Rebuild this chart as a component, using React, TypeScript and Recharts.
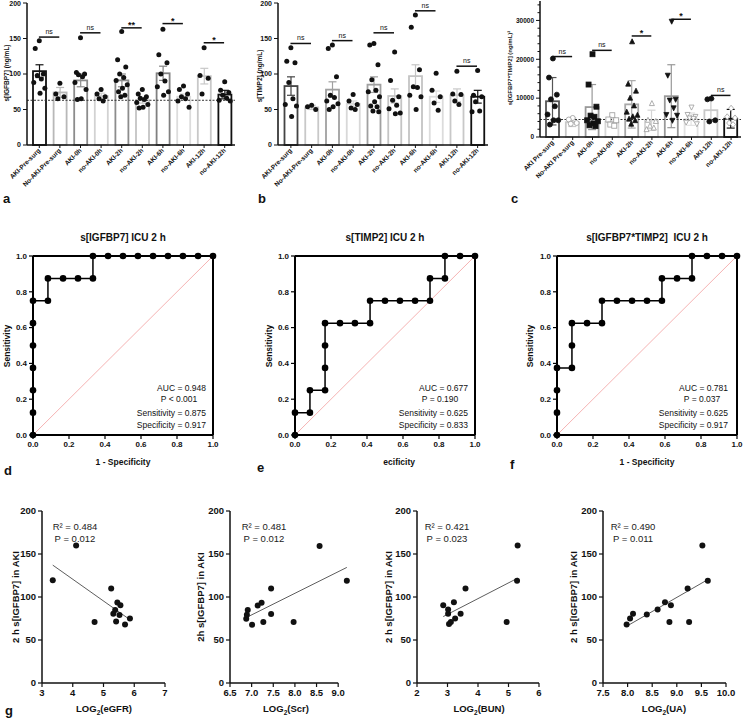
import React from 'react';
import { ComposedChart, Bar, Scatter, Line, XAxis, YAxis, ReferenceLine } from 'recharts';

const FONT = '"Liberation Sans", Arial, Helvetica, sans-serif';

// ---------- Panels a-c : categories ----------
const catsAB = ['AKI-Pre-surg', 'No-AKI-Pre-surg', 'AKI-0h', 'no-AKI-0h', 'AKI-2h', 'no-AKI-2h', 'AKI-6h', 'no-AKI-6h', 'AKI-12h', 'no-AKI-12h'];
const catsC = ['AKI Pre-surg', 'No-AKI Pre-surg', 'AKI-0h', 'no-AKI-0h', 'AKI-2h', 'no-AKI-2h', 'AKI-6h', 'no-AKI-6h', 'AKI-12h', 'no-AKI-12h'];

// ---------- Panel a : s[IGFBP7] ----------
const igfMean = [104, 74, 91, 69, 91, 63, 101, 68, 97, 71];
const igfErr = [9, 7, 9, 4, 9, 4, 10, 4, 11, 6];
const igfPts = [
  [147, 136, 100, 98, 93, 88, 80, 73],
  [87, 72, 68, 65],
  [151, 102, 100, 99, 96, 88, 78, 65, 64],
  [78, 72, 68, 65, 62],
  [160, 120, 110, 100, 95, 91, 85, 80, 75, 70, 68],
  [78, 72, 68, 66, 64, 60, 57, 53, 52],
  [163, 127, 116, 100, 90, 82, 75, 70],
  [83, 78, 72, 68, 65, 62, 53],
  [137, 98, 94, 72],
  [89, 77, 74, 70, 66, 63, 62],
];
const igfSigLeft = [0, 2, 4, 6, 8];
const igfSigY = [152, 158, 165, 171, 144];
const igfSigText = ['ns', 'ns', '**', '*', '*'];
const igfRef = 63;

// ---------- Panel b : s[TIMP2] ----------
const timpMean = [83, 53, 78, 58, 85, 69, 97, 68, 70, 68];
const timpErr = [13, 3, 11, 4, 11, 10, 16, 8, 9, 9];
const timpPts = [
  [137, 118, 116, 88, 65, 57, 55, 40],
  [56, 54, 50],
  [141, 136, 96, 70, 67, 62, 58, 54, 50],
  [71, 62, 57, 52, 50],
  [143, 141, 113, 92, 77, 75, 68, 61, 55, 54, 48, 47],
  [131, 91, 68, 63, 56, 51, 45, 44],
  [183, 166, 106, 82, 81, 70, 68, 50],
  [101, 77, 68, 59, 49],
  [104, 72, 71, 62, 57],
  [105, 70, 68, 61, 48, 47],
];
const timpSigLeft = [0, 2, 4, 6, 8];
const timpSigY = [143, 147, 158, 189, 111];
const timpSigText = ['ns', 'ns', 'ns', 'ns', 'ns'];

// ---------- Panel c : s[IGFBP7*TIMP2] ----------
const prodMean = [9200, 3800, 7700, 3900, 8400, 4300, 10500, 4600, 6900, 4700];
const prodErr = [6100, 1100, 5800, 1100, 6100, 2600, 8100, 1600, 2900, 2400];
const prodPts = [
  [20200, 15300, 10900, 9700, 7900, 5800, 4300, 4300, 3200],
  [4900, 4500, 3600, 3400],
  [21300, 13500, 7800, 5500, 5200, 4300, 4050, 3500, 3000, 2800],
  [5600, 4500, 4300, 3200, 2900],
  [24500, 13600, 11800, 10000, 8000, 6400, 5600, 5200, 4600, 4200, 3300],
  [8600, 4300, 4000, 2800, 2300, 1900],
  [29800, 15900, 9700, 9500, 7500, 5800, 5600, 4300],
  [7700, 5800, 5300, 4900, 4800, 3800, 3400],
  [9900, 9700, 4300, 4000],
  [7400, 5200, 4900, 3600, 3200],
];
const prodSigLeft = [0, 2, 4, 6, 8];
const prodSigY = [20700, 22300, 26000, 30300, 10700];
const prodSigText = ['ns', 'ns', '*', '*', 'ns'];
const prodRef = 4500;

// ---------- ROC curves (1 - specificity, sensitivity) ----------
const rocDx = [0, 0, 0, 0, 0, 0, 0, 0.083, 0.083, 0.167, 0.25, 0.333, 0.333, 0.417, 0.5, 0.583, 0.667, 0.75, 0.833, 0.917, 1];
const rocDy = [0, 0.125, 0.25, 0.375, 0.5, 0.625, 0.75, 0.75, 0.875, 0.875, 0.875, 0.875, 1, 1, 1, 1, 1, 1, 1, 1, 1];
const rocEx = [0, 0, 0.083, 0.083, 0.167, 0.167, 0.167, 0.167, 0.25, 0.333, 0.417, 0.417, 0.5, 0.583, 0.667, 0.75, 0.75, 0.833, 0.833, 0.917, 1];
const rocEy = [0, 0.125, 0.125, 0.25, 0.25, 0.375, 0.5, 0.625, 0.625, 0.625, 0.625, 0.75, 0.75, 0.75, 0.75, 0.75, 0.875, 0.875, 1, 1, 1];
const rocFx = [0, 0, 0, 0, 0.083, 0.083, 0.083, 0.167, 0.25, 0.25, 0.333, 0.417, 0.5, 0.583, 0.583, 0.667, 0.75, 0.75, 0.833, 0.917, 1];
const rocFy = [0, 0.125, 0.25, 0.375, 0.375, 0.5, 0.625, 0.625, 0.625, 0.75, 0.75, 0.75, 0.75, 0.75, 0.875, 0.875, 0.875, 1, 1, 1, 1];

// ---------- Scatter g ----------
const eGFRx = [3.35, 4.11, 4.71, 5.25, 5.45, 5.55, 5.38, 5.32, 5.52, 5.41, 5.70, 5.86];
const eGFRy = [119.5, 160, 71, 110, 93.6, 90.5, 85, 80.5, 79, 71.5, 68, 75];
const scrX = [6.875, 6.89, 6.91, 7.01, 7.14, 7.23, 7.27, 7.45, 7.45, 7.97, 8.57, 9.2];
const scrY = [74.7, 79.3, 85, 67.7, 90.2, 93.2, 70.8, 110, 80.2, 70.8, 159.4, 118.8];
const bunX = [2.86, 3.02, 3.02, 3.21, 3.05, 3.11, 3.25, 3.43, 3.59, 4.94, 5.30, 5.28];
const bunY = [90.5, 80.4, 85.4, 94, 68.7, 71, 75, 80.4, 110, 71, 159.8, 119];
const uaX = [7.98, 8.05, 8.11, 8.39, 8.61, 8.76, 8.88, 8.85, 9.22, 9.25, 9.52, 9.63];
const uaY = [68, 75, 80.4, 79.6, 85.4, 94, 90.5, 71, 110, 71, 160, 119];

// ---------- styles ----------
const colA = ['#111', '#b8b8b8', '#8c8c8c', '#d2d2d2', '#8c8c8c', '#c4c4c4', '#808080', '#dcdcdc', '#c8c8c8', '#111'];
const colB = ['#444', '#c8c8c8', '#a0a0a0', '#d8d8d8', '#a0a0a0', '#c4c4c4', '#c4c4c4', '#dcdcdc', '#c8c8c8', '#111'];
const colC = ['#555', '#c8c8c8', '#999', '#d8d8d8', '#a8a8a8', '#d4d4d4', '#999', '#e2e2e2', '#c8c8c8', '#111'];
const MARK_C = ['circle', 'circle', 'square', 'square', 'up', 'up', 'down', 'down', 'circle', 'diamond'];
const JIT = [0, -0.22, 0.22, -0.11, 0.11, -0.3, 0.3, 0.04, -0.17, 0.17, -0.05, 0.26];

const RotTick = (props: any) => {
  const { x, y, payload } = props;
  const tx = x + 1.5;
  const ty = y + 1;
  return (
    <text x={tx} y={ty} transform={`rotate(-45 ${tx} ${ty})`} textAnchor="end" fontSize={6.5} fontWeight="bold" fontFamily={FONT} fill="#111">
      {payload.value}
    </text>
  );
};

const MinorYTick = (props: any) => {
  const { x, y, payload } = props;
  const major = payload.value % 10000 === 0;
  return (
    <g>
      <line x1={x} x2={x - (major ? 4 : 2.5)} y1={y} y2={y} stroke="#111" strokeWidth={1} />
      {major && (
        <text x={x - 6} y={y + 2.3} textAnchor="end" fontSize={6.5} fontWeight="bold" fontFamily={FONT} fill="#111">
          {payload.value}
        </text>
      )}
    </g>
  );
};

function marker(cx: number, cy: number, g: number, kindArr: string[] | null) {
  if (!kindArr) return <circle cx={cx} cy={cy} r={2.5} fill="#111" />;
  const filled = g % 2 === 0;
  const fill = filled ? '#111' : '#fff';
  const stroke = filled ? '#111' : '#9a9a9a';
  const s = 2.5;
  const kind = kindArr[g];
  if (kind === 'square') return <rect x={cx - s} y={cy - s} width={2 * s} height={2 * s} fill={fill} stroke={stroke} strokeWidth={0.8} />;
  if (kind === 'up') return <polygon points={`${cx},${cy - s - 0.5} ${cx - s},${cy + s - 0.5} ${cx + s},${cy + s - 0.5}`} fill={fill} stroke={stroke} strokeWidth={0.8} />;
  if (kind === 'down') return <polygon points={`${cx},${cy + s + 0.5} ${cx - s},${cy - s + 0.5} ${cx + s},${cy - s + 0.5}`} fill={fill} stroke={stroke} strokeWidth={0.8} />;
  if (kind === 'diamond') return <polygon points={`${cx},${cy - s - 0.5} ${cx + s},${cy} ${cx},${cy + s + 0.5} ${cx - s},${cy}`} fill={fill} stroke={stroke} strokeWidth={0.8} />;
  return <circle cx={cx} cy={cy} r={s} fill={fill} stroke={stroke} strokeWidth={0.8} />;
}

const sigLabel = (txt: string) => (lp: any) => {
  const vb = lp.viewBox || {};
  const cx = (vb.x || 0) + (vb.width || 0) / 2;
  const isNs = txt === 'ns';
  return (
    <text x={cx} y={(vb.y || 0) - (isNs ? 3 : 0)} textAnchor="middle" fontSize={isNs ? 7 : 9} fontWeight={isNs ? 'normal' : 'bold'} fontFamily={FONT} fill="#111">
      {txt}
    </text>
  );
};

function BarPanel(p: any) {
  const data = p.cats.map((name: string, i: number) => ({ name, mean: p.means[i], i }));
  const pts: any[] = [];
  p.pts.forEach((arr: number[], g: number) => arr.forEach((v, k) => pts.push({ x: g + JIT[k % JIT.length] * 0.9, y: v, g })));
  const barShape = (s: any) => {
    const { x, y, width, height, payload } = s;
    const i = payload.i;
    const c = p.colors[i];
    const k = height / p.means[i];
    const e = p.errs[i] * k;
    const cx = x + width / 2;
    return (
      <g>
        <rect x={x} y={y} width={width} height={height} fill="#fff" stroke={c} strokeWidth={1.8} />
        <line x1={cx} x2={cx} y1={y - e} y2={y + e} stroke={c} strokeWidth={1.2} />
        <line x1={cx - 4} x2={cx + 4} y1={y - e} y2={y - e} stroke={c} strokeWidth={1.2} />
        <line x1={cx - 4} x2={cx + 4} y1={y + e} y2={y + e} stroke={c} strokeWidth={1.2} />
      </g>
    );
  };
  return (
    <div style={{ position: 'absolute', left: p.left, top: p.top }}>
      <ComposedChart width={p.width} height={p.height} data={data} margin={{ top: p.topMargin, right: p.rightMargin, bottom: 0, left: 0 }}>
        <XAxis xAxisId="c" dataKey="name" type="category" interval={0} padding={{ left: p.padLeft, right: 0 }} height={p.xHeight} tick={<RotTick />} tickSize={3} axisLine={{ stroke: '#111', strokeWidth: 1.5 }} tickLine={{ stroke: '#111' }} />
        <XAxis xAxisId="n" dataKey="x" type="number" domain={[-0.5, 9.5]} padding={{ left: p.padLeft, right: 0 }} hide />
        {p.minor ? (
          <YAxis type="number" domain={p.domain} ticks={p.yTicks} width={p.yWidth} interval={0} tickSize={0} tickMargin={0} tick={<MinorYTick />} axisLine={{ stroke: '#111', strokeWidth: 1.5 }} tickLine={false} />
        ) : (
          <YAxis type="number" domain={p.domain} ticks={p.yTicks} width={p.yWidth} interval={0} tickSize={4} tick={{ fontSize: 7, fontWeight: 'bold', fill: '#111', fontFamily: FONT }} axisLine={{ stroke: '#111', strokeWidth: 1.5 }} tickLine={{ stroke: '#111' }} />
        )}
        <Bar xAxisId="c" dataKey="mean" barSize={13} shape={barShape} isAnimationActive={false} />
        {p.refY != null && <ReferenceLine xAxisId="n" y={p.refY} stroke="#333" strokeWidth={1} strokeDasharray="2 1.5" />}
        <Scatter xAxisId="n" data={pts} dataKey="y" isAnimationActive={false} shape={(s: any) => marker(s.cx, s.cy, s.payload.g, p.marks)} />
        {p.sigLeft.map((l: number, j: number) => (
          <ReferenceLine
            key={j}
            xAxisId="n"
            segment={[{ x: l - 0.02, y: p.sigY[j] }, { x: l + 0.97, y: p.sigY[j] }]}
            stroke="#111"
            strokeWidth={1.5}
            ifOverflow="visible"
            label={sigLabel(p.sigText[j])}
          />
        ))}
      </ComposedChart>
    </div>
  );
}

function RocPanel(p: any) {
  const data = p.xs.map((x: number, i: number) => ({ x, y: p.ys[i] }));
  const ticks = [0, 0.2, 0.4, 0.6, 0.8, 1];
  const tk = { fontSize: 8, fontWeight: 'bold', fill: '#111', fontFamily: FONT };
  return (
    <div style={{ position: 'absolute', left: p.left, top: p.top }}>
      <ComposedChart width={p.width} height={220} data={data} margin={{ top: 16, right: p.right, bottom: 0, left: 0 }}>
        <XAxis dataKey="x" type="number" domain={[0, 1]} ticks={ticks} interval={0} tickFormatter={(v: number) => v.toFixed(1)} height={25} tickSize={4} tick={tk} axisLine={{ stroke: '#000', strokeWidth: 2 }} tickLine={{ stroke: '#000', strokeWidth: 1.2 }} />
        <YAxis type="number" domain={[0, 1]} ticks={ticks} interval={0} tickFormatter={(v: number) => v.toFixed(1)} width={33} tickSize={4} tick={tk} axisLine={{ stroke: '#000', strokeWidth: 2 }} tickLine={{ stroke: '#000', strokeWidth: 1.2 }} />
        <ReferenceLine segment={[{ x: 0, y: 0 }, { x: 1, y: 1 }]} stroke="#f2a0a0" strokeWidth={0.8} />
        <ReferenceLine y={1} stroke="#000" strokeWidth={2} />
        <ReferenceLine x={1} stroke="#000" strokeWidth={2} />
        <Line type="linear" dataKey="y" stroke="#000" strokeWidth={1.5} dot={{ r: 3.3, fill: '#000', stroke: '#000', strokeWidth: 0 }} isAnimationActive={false} />
      </ComposedChart>
    </div>
  );
}

function fitLine(xs: number[], ys: number[]) {
  const n = xs.length;
  const mx = xs.reduce((a, b) => a + b, 0) / n;
  const my = ys.reduce((a, b) => a + b, 0) / n;
  let sxy = 0;
  let sxx = 0;
  xs.forEach((x, i) => {
    sxy += (x - mx) * (ys[i] - my);
    sxx += (x - mx) * (x - mx);
  });
  const b = sxy / sxx;
  const a = my - b * mx;
  const x0 = Math.min(...xs);
  const x1 = Math.max(...xs);
  return [{ x: x0, y: a + b * x0 }, { x: x1, y: a + b * x1 }];
}

function ScatPanel(p: any) {
  const data = p.xs.map((x: number, i: number) => ({ x, y: p.ys[i] }));
  const tk = { fontSize: 9.5, fontWeight: 'bold', fill: '#111', fontFamily: FONT };
  return (
    <div style={{ position: 'absolute', left: p.left, top: p.top }}>
      <ComposedChart width={180} height={215} data={data} margin={{ top: 21, right: p.right, bottom: 0, left: 0 }}>
        <XAxis dataKey="x" type="number" domain={p.domain} ticks={p.ticks} interval={0} tickFormatter={p.fmt} height={22} tickSize={4} tick={tk} axisLine={p.axisTo ? false : { stroke: '#111', strokeWidth: 1.5 }} tickLine={{ stroke: '#111', strokeWidth: 1.2 }} />
        <YAxis dataKey="y" type="number" domain={[0, 200]} ticks={[0, 50, 100, 150, 200]} interval={0} width={42} tickSize={4} tick={tk} axisLine={{ stroke: '#111', strokeWidth: 1.5 }} tickLine={{ stroke: '#111', strokeWidth: 1.2 }} />
        {p.axisTo && <ReferenceLine segment={[{ x: p.domain[0], y: 0 }, { x: p.axisTo, y: 0 }]} stroke="#111" strokeWidth={1.5} />}
        <ReferenceLine segment={fitLine(p.xs, p.ys)} stroke="#333" strokeWidth={0.8} ifOverflow="visible" />
        <Scatter dataKey="y" data={data} isAnimationActive={false} shape={(s: any) => <circle cx={s.cx} cy={s.cy} r={3} fill="#111" />} />
      </ComposedChart>
    </div>
  );
}

const T = (p: any) => (
  <text x={p.x} y={p.y} textAnchor={p.anchor || 'start'} fontSize={p.size || 9} fontWeight={p.bold ? 'bold' : 'normal'} fontFamily={FONT} fill={p.fill || '#111'} transform={p.rot ? `rotate(-90 ${p.x} ${p.y})` : undefined} style={{ whiteSpace: 'pre' }}>
    {p.children}
  </text>
);

const LogLabel = ({ x, y, name }: any) => (
  <text x={x} y={y} textAnchor="middle" fontSize={9.5} fontWeight="bold" fontFamily={FONT} fill="#111">
    LOG<tspan fontSize={6.5} dy={2.5}>2</tspan>
    <tspan dy={-2.5}>({name})</tspan>
  </text>
);

export default function App() {
  const fmt1 = (v: number) => v.toFixed(1);
  const rocStats = [
    { r: 206, m: 179, auc: 'AUC = 0.948', p: 'P < 0.001', se: 'Sensitivity = 0.875', sp: 'Specificity = 0.917' },
    { r: 468, m: 440, auc: 'AUC = 0.677', p: 'P = 0.190', se: 'Sensitivity = 0.625', sp: 'Specificity = 0.833' },
    { r: 728, m: 702, auc: 'AUC = 0.781', p: 'P = 0.037', se: 'Sensitivity = 0.625', sp: 'Specificity = 0.917' },
  ];
  const scatTexts = [
    { c: 75, r2: 'R² = 0.484', p: 'P = 0.012', yl: '2 h s[IGFBP7] in AKI', yx: 19, xc: 104, xn: 'eGFR' },
    { c: 264, r2: 'R² = 0.481', p: 'P = 0.012', yl: '2h s[IGFBP7] in AKI', yx: 204, xc: 286, xn: 'Scr' },
    { c: 447, r2: 'R² = 0.421', p: 'P = 0.023', yl: '2 h s[IGFBP7] in AKI', yx: 392, xc: 479, xn: 'BUN' },
    { c: 633, r2: 'R² = 0.490', p: 'P = 0.011', yl: '2 h s[IGFBP7] in AKI', yx: 577, xc: 664, xn: 'UA' },
  ];
  return (
    <div style={{ position: 'absolute', left: 0, top: 0, width: 744, height: 718, background: '#fff', overflow: 'hidden', fontFamily: FONT }}>
      <BarPanel left={0} top={0} width={240} height={195} topMargin={3} rightMargin={5} yWidth={27} xHeight={50} padLeft={2}
        cats={catsAB} means={igfMean} errs={igfErr} pts={igfPts} colors={colA} domain={[0, 200]} yTicks={[0, 50, 100, 150, 200]}
        sigLeft={igfSigLeft} sigY={igfSigY} sigText={igfSigText} refY={igfRef} marks={null} />
      <BarPanel left={245} top={0} width={245} height={195} topMargin={3} rightMargin={2} yWidth={33} xHeight={50} padLeft={2.5}
        cats={catsAB} means={timpMean} errs={timpErr} pts={timpPts} colors={colB} domain={[0, 200]} yTicks={[0, 50, 100, 150, 200]}
        sigLeft={timpSigLeft} sigY={timpSigY} sigText={timpSigText} refY={null} marks={null} />
      <BarPanel left={490} top={0} width={254} height={195} topMargin={1} rightMargin={3} yWidth={50} xHeight={58} padLeft={3}
        cats={catsC} means={prodMean} errs={prodErr} pts={prodPts} colors={colC} domain={[0, 35000]}
        yTicks={[0, 2000, 4000, 6000, 8000, 10000, 12000, 14000, 16000, 18000, 20000, 22000, 24000, 26000, 28000, 30000, 32000, 34000]} minor
        sigLeft={prodSigLeft} sigY={prodSigY} sigText={prodSigText} refY={prodRef} marks={MARK_C} />

      <RocPanel left={0} top={240} width={230} right={17} xs={rocDx} ys={rocDy} />
      <RocPanel left={262} top={240} width={230} right={17} xs={rocEx} ys={rocEy} />
      <RocPanel left={524} top={240} width={220} right={7} xs={rocFx} ys={rocFy} />

      <ScatPanel left={0} top={490} right={15} xs={eGFRx} ys={eGFRy} domain={[3, 7]} ticks={[3, 4, 5, 6, 7]} fmt={(v: number) => String(v)} />
      <ScatPanel left={188} top={490} right={19} xs={scrX} ys={scrY} domain={[6.5, 9.25]} ticks={[6.5, 7, 7.5, 8, 8.5, 9]} fmt={fmt1} axisTo={9} />
      <ScatPanel left={375} top={490} right={16} xs={bunX} ys={bunY} domain={[2, 6]} ticks={[2, 3, 4, 5, 6]} fmt={(v: number) => String(v)} />
      <ScatPanel left={561} top={490} right={15} xs={uaX} ys={uaY} domain={[7.5, 10]} ticks={[7.5, 8, 8.5, 9, 9.5, 10]} fmt={fmt1} />

      <svg width={744} height={718} style={{ position: 'absolute', left: 0, top: 0, pointerEvents: 'none' }}>
        <T x={9} y={73} rot bold size={6.5} anchor="middle">s[IGFBP7] (ng/mL)</T>
        <T x={262} y={76} rot bold size={6.5} anchor="middle">s[TIMP2] (ng/mL)</T>
        <T x={512} y={68} rot bold size={6} anchor="middle">s[IGFBP7*TIMP2] (ng/mL)²</T>

        <T x={3} y={203} bold size={13}>a</T>
        <T x={258} y={203} bold size={13}>b</T>
        <T x={511} y={203} bold size={13}>c</T>
        <T x={4} y={475} bold size={13}>d</T>
        <T x={257} y={472} bold size={13}>e</T>
        <T x={510} y={469} bold size={13}>f</T>
        <T x={5} y={715} bold size={13}>g</T>

        <T x={123} y={241} bold size={10} anchor="middle">s[IGFBP7] ICU 2 h</T>
        <T x={385} y={241} bold size={10} anchor="middle">s[TIMP2] ICU 2 h</T>
        <T x={647} y={241} bold size={10} anchor="middle">{'s[IGFBP7*TIMP2]  ICU 2 h'}</T>

        <T x={10} y={346} rot bold size={8.5} anchor="middle">Sensitivity</T>
        <T x={272} y={346} rot bold size={8.5} anchor="middle">Sensitivity</T>
        <T x={533} y={346} rot bold size={8.5} anchor="middle">Sensitivity</T>
        <T x={123} y={465} bold size={8.5} anchor="middle">1 - Specificity</T>
        <T x={415} y={465} bold size={8.5} anchor="end">ecificity</T>
        <T x={647} y={465} bold size={8.5} anchor="middle">1 - Specificity</T>

        {rocStats.map((s, i) => (
          <g key={i}>
            <T x={s.r} y={391} size={8.5} anchor="end">{s.auc}</T>
            <T x={s.m} y={402} size={8.5} anchor="middle">{s.p}</T>
            <T x={s.r} y={416} size={8.5} anchor="end">{s.se}</T>
            <T x={s.r} y={428} size={8.5} anchor="end">{s.sp}</T>
          </g>
        ))}

        {scatTexts.map((s, i) => (
          <g key={i}>
            <T x={s.c} y={530} size={9.5} anchor="middle" fill="#222">{s.r2}</T>
            <T x={s.c} y={542} size={9.5} anchor="middle" fill="#222">{s.p}</T>
            <T x={s.yx} y={597} rot bold size={9.5} anchor="middle">{s.yl}</T>
            <LogLabel x={s.xc} y={712} name={s.xn} />
          </g>
        ))}
      </svg>
    </div>
  );
}
